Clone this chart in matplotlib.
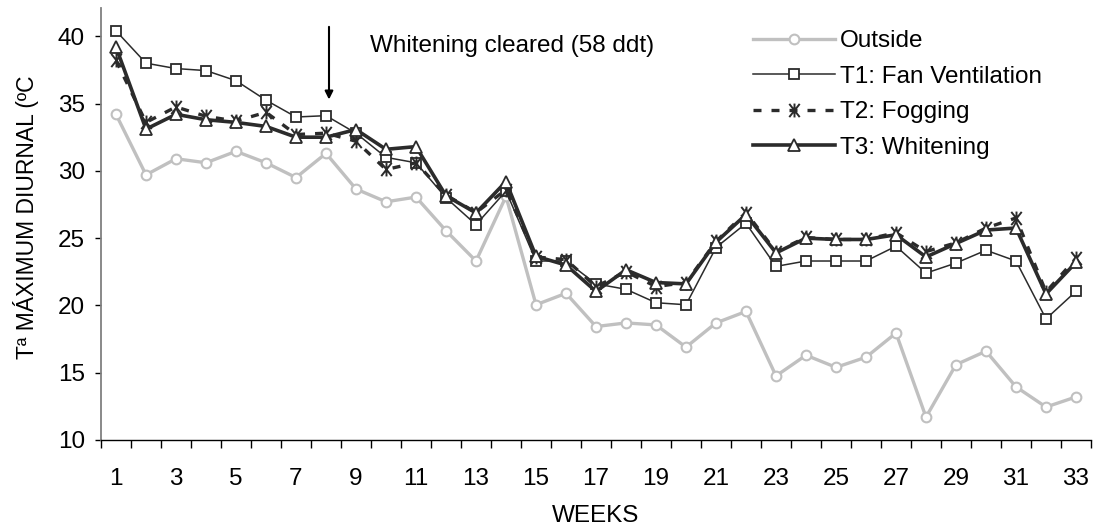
import matplotlib
matplotlib.use("Agg")
import matplotlib.pyplot as plt
from matplotlib.path import Path
import numpy as np

plt.rcParams['font.family'] = ['Liberation Sans', 'DejaVu Sans']

weeks = list(range(1, 34))
outside = [34.2, 29.7, 30.9, 30.6, 31.45, 30.6, 29.5, 31.3, 28.65, 27.7, 28.05, 25.55, 23.3, 28.1,
           20.05, 20.9, 18.43, 18.7, 18.55, 16.9, 18.7, 19.55, 14.76, 16.3, 15.4, 16.15, 17.95,
           11.7, 15.6, 16.6, 13.95, 12.45, 13.2]
t1_fan = [40.4, 38.0, 37.6, 37.45, 36.7, 35.25, 34.0, 34.1, 32.8, 31.0, 30.6, 28.0, 26.0, 28.5,
          23.3, 23.3, 21.6, 21.2, 20.2, 20.05, 24.3, 26.1, 22.9, 23.3, 23.3, 23.3, 24.4,
          22.4, 23.15, 24.1, 23.3, 19.0, 21.05]
t2_fog = [38.2, 33.6, 34.75, 34.05, 33.7, 34.35, 32.7, 32.8, 32.2, 30.1, 30.6, 28.2, 26.9, 28.6,
          23.6, 23.4, 21.4, 22.5, 21.4, 21.7, 24.75, 26.9, 24.0, 25.05, 24.9, 24.9, 25.4,
          24.0, 24.65, 25.75, 26.5, 21.0, 23.5]
t3_white = [39.2, 33.1, 34.2, 33.8, 33.6, 33.3, 32.5, 32.5, 33.07, 31.6, 31.8, 28.15, 26.87, 29.2,
            23.65, 23.0, 21.04, 22.65, 21.7, 21.6, 24.7, 26.75, 23.9, 25.0, 24.9, 24.9, 25.25,
            23.6, 24.6, 25.6, 25.75, 20.85, 23.2]
labels = ["Outside", "T1: Fan Ventilation", "T2: Fogging", "T3: Whitening"]
xtick_labels = [str(w) for w in range(1, 34, 2)]
yticks = [10, 15, 20, 25, 30, 35, 40]
annot_week = 8
annot_text = "Whitening cleared (58 ddt)"

FS = 17.5
W, H = 1098, 528
fig = plt.figure(figsize=(W / 100, H / 100), dpi=100)
ax = fig.add_axes([101 / W, 1 - 440 / H, 990 / W, (440 - 8) / H])

star = Path([(0, -1), (0, 1), (-0.75, -0.95), (0.75, 0.95), (-0.75, 0.95), (0.75, -0.95)],
            [Path.MOVETO, Path.LINETO, Path.MOVETO, Path.LINETO, Path.MOVETO, Path.LINETO])

dark = '#2b2b2b'
ax.plot(weeks, outside, color='#c0c0c0', lw=2.4, marker='o', ms=7, mfc='white',
        mec='#c0c0c0', mew=1.5, label=labels[0], zorder=3)
ax.plot(weeks, t1_fan, color=dark, lw=1.1, marker='s', ms=7, mfc='white',
        mec=dark, mew=1.3, label=labels[1], zorder=4)
ax.plot(weeks, t2_fog, color=dark, lw=2.4, dashes=(2.4, 3.0), marker=star, ms=10,
        mec=dark, mew=1.4, label=labels[2], zorder=5)
ax.plot(weeks, t3_white, color=dark, lw=2.6, marker='^', ms=8, mfc='white',
        mec=dark, mew=1.3, label=labels[3], zorder=6)

ax.set_xlim(0.5, 33.5)
ax.set_ylim(10, 42.1)
ax.set_yticks(yticks)
ax.set_xticks(np.arange(0.5, 34, 1.0))
ax.set_xticklabels([])
ax.set_xticks(range(1, 34, 2), minor=True)
ax.set_xticklabels(xtick_labels, minor=True)
ax.tick_params(axis='x', which='major', direction='out', length=6, width=1, color='black')
ax.tick_params(axis='x', which='minor', length=0, pad=20, labelsize=FS)
ax.tick_params(axis='y', direction='out', length=4.5, width=1, color='black', pad=7, labelsize=FS)

for s in ['top', 'right']:
    ax.spines[s].set_visible(False)
ax.spines['left'].set_color('#808080')
ax.spines['left'].set_linewidth(1.3)
ax.spines['bottom'].set_color('black')
ax.spines['bottom'].set_linewidth(1.0)

ax.set_xlabel("WEEKS", fontsize=FS, labelpad=11)
ax.set_ylabel("Tª MÁXIMUM DIURNAL (ºC", fontsize=16.5)
ax.yaxis.set_label_coords(39 / W, 1 - 217 / H, transform=fig.transFigure)

ax.annotate("", xy=(annot_week + 0.1, 35.3), xytext=(annot_week + 0.1, 40.7),
            arrowprops=dict(arrowstyle='-|>', color='black', lw=1.5, mutation_scale=12,
                            shrinkA=0, shrinkB=0))
ax.text(9.45, 39.3, annot_text, fontsize=FS, va='center', ha='left')

leg = ax.legend(loc='upper left', bbox_to_anchor=(753 / W, 1 - 30 / H),
                bbox_transform=fig.transFigure, frameon=False, fontsize=FS,
                handlelength=3.37, handletextpad=0.2, labelspacing=0.56,
                borderpad=0, borderaxespad=0, numpoints=1)

fig.savefig("out.png", dpi=100)
